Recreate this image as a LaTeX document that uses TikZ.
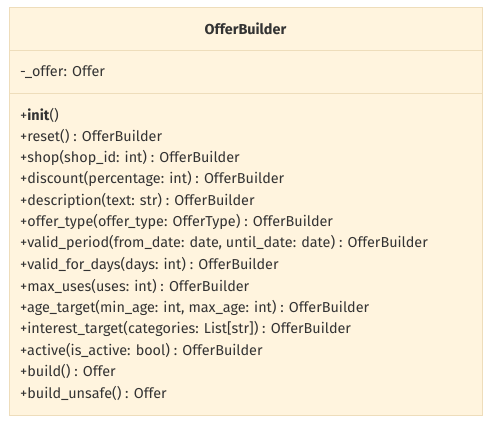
\documentclass[tikz,border=0pt]{standalone}
\usepackage{fontspec}
\setmainfont{Fira Sans}
\definecolor{boxfill}{HTML}{FFF4DE}
\definecolor{boxline}{HTML}{EEDDBB}
\definecolor{txt}{HTML}{333333}
\begin{document}
\begin{tikzpicture}[x=1pt,y=-1pt,
  member/.style={anchor=west,inner sep=0pt,text=txt,font=\fontsize{14.4}{16}\selectfont},
  title/.style={inner sep=0pt,text=txt,font=\fontsize{14.4}{16}\selectfont\bfseries}]
\useasboundingbox (0,0) rectangle (488,423);
\node[draw=boxline,fill=boxfill,line width=1pt,minimum width=473pt,minimum height=408pt,anchor=north west,inner sep=0pt] (box) at (9,7) {};
\coordinate (s1l) at (9,50); \coordinate (s1r) at (482,50);
\coordinate (s2l) at (9,93); \coordinate (s2r) at (482,93);
\draw[boxline,line width=1pt] (s1l) -- (s1r);
\draw[boxline,line width=1pt] (s2l) -- (s2r);
\node[title] (t) at (245.5,29) {OfferBuilder};
\node[member] (a1) at (20,72) {-\_offer: Offer};
\foreach \i/\s in {0/{+\textbf{init}()},
1/{+reset() : OfferBuilder},
2/{+shop(shop\_id: int) : OfferBuilder},
3/{+discount(percentage: int) : OfferBuilder},
4/{+description(text: str) : OfferBuilder},
5/{+offer\_type(offer\_type: OfferType) : OfferBuilder},
6/{+valid\_period(from\_date: date, until\_date: date) : OfferBuilder},
7/{+valid\_for\_days(days: int) : OfferBuilder},
8/{+max\_uses(uses: int) : OfferBuilder},
9/{+age\_target(min\_age: int, max\_age: int) : OfferBuilder},
10/{+interest\_target(categories: List[str]) : OfferBuilder},
11/{+active(is\_active: bool) : OfferBuilder},
12/{+build() : Offer},
13/{+build\_unsafe() : Offer}}
  \node[member] (m\i) at (20,115+21.4*\i) {\s};
\end{tikzpicture}
\end{document}
